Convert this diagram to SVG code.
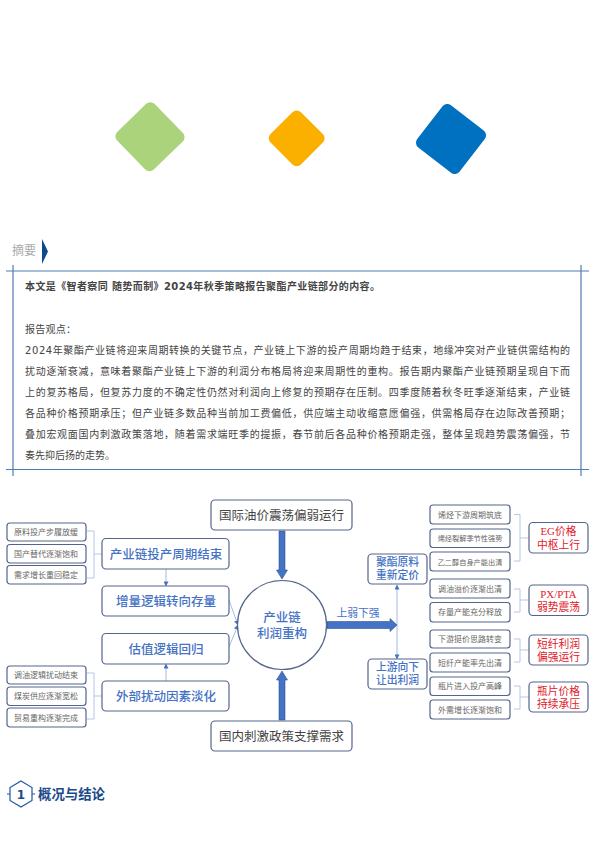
<svg xmlns="http://www.w3.org/2000/svg" width="595" height="842" viewBox="0 0 595 842">
<style>
.body{font-family:"DejaVu Sans","Noto Sans CJK SC",sans-serif;font-size:10px;fill:#444}
.d{font-family:"Liberation Serif","Noto Sans CJK SC",serif;text-anchor:middle}
.s{font-size:8px;fill:#666}
.m{font-size:12.500px;fill:#4472c4;font-weight:500}
.b{font-size:12.500px;fill:#444}
.n{font-size:10.800px;fill:#4472c4;font-weight:500}
.r{font-size:10.800px;fill:#e0202a}
.box{fill:#fff;stroke:#54648a;stroke-width:1.200}
.thin{fill:none;stroke:#b4c7e7;stroke-width:1}
.link{fill:none;stroke:#8faadc;stroke-width:.8}
.big{fill:#4472c4;stroke:#2f528f;stroke-width:.6}
.rule{stroke:#4f7cb4;stroke-width:1.200;fill:none}
</style>
<defs>
<marker id="a" viewBox="0 0 6 6" refX="5.500" refY="3" markerWidth="5" markerHeight="5" orient="auto-start-reverse" markerUnits="userSpaceOnUse"><path d="M0 0L6 3L0 6z" fill="#4472c4"/></marker>
</defs>
<g id="deco">
<rect x="123.800" y="110.500" width="52.400" height="52.400" rx="6" fill="#aad37b" transform="rotate(45.800 150 136.700)"/>
<rect x="275.200" y="116.800" width="43" height="43" rx="6" fill="#fbb000" transform="rotate(45 296.700 138.300)"/>
<rect x="424.300" y="112.300" width="53.400" height="53.400" rx="6" fill="#0070c0" transform="rotate(37.700 451 139)"/>
</g>
<g id="abstract">
<text x="12" y="255" font-family="Noto Sans CJK SC,sans-serif" font-size="12" fill="#aaa">摘要</text>
<path d="M42 239L48 251.500L42 264z" fill="#0b4a8f"/>
<path class="rule" d="M6 271H589M6 469.500H589M13 265V476M581 265V476"/>
<text class="body" x="25" y="290" font-weight="bold" textLength="355" lengthAdjust="spacing">本文是《智者察同 随势而制》2024年秋季策略报告聚酯产业链部分的内容。</text>
<text class="body" x="25" y="333" textLength="51" lengthAdjust="spacing">报告观点：</text>
<text class="body" x="25" y="354" textLength="545" lengthAdjust="spacing">2024年聚酯产业链将迎来周期转换的关键节点，产业链上下游的投产周期均趋于结束，地缘冲突对产业链供需结构的</text>
<text class="body" x="25" y="375" textLength="545" lengthAdjust="spacing">扰动逐渐衰减，意味着聚酯产业链上下游的利润分布格局将迎来周期性的重构。报告期内聚酯产业链预期呈现自下而</text>
<text class="body" x="25" y="396" textLength="545" lengthAdjust="spacing">上的复苏格局，但复苏力度的不确定性仍然对利润向上修复的预期存在压制。四季度随着秋冬旺季逐渐结束，产业链</text>
<text class="body" x="25" y="417" textLength="545" lengthAdjust="spacing">各品种价格预期承压；但产业链多数品种当前加工费偏低，供应端主动收缩意愿偏强，供需格局存在边际改善预期；</text>
<text class="body" x="25" y="438" textLength="545" lengthAdjust="spacing">叠加宏观面国内刺激政策落地，随着需求端旺季的提振，春节前后各品种价格预期走强，整体呈现趋势震荡偏强，节</text>
<text class="body" x="25" y="459" textLength="90" lengthAdjust="spacing">奏先抑后扬的走势。</text>
</g>
<g id="connectors">
<path class="thin" d="M87 531H94V578H87M94 554H102"/>
<path class="thin" d="M87 673H94V719H87M94 696H102"/>
<path class="thin" d="M514 514.500H520V561H514M520 538H529"/>
<path class="thin" d="M514 589H520V612H514M520 600H529"/>
<path class="thin" d="M514 639H520V662H514M520 650H529"/>
<path class="thin" d="M514 686H520V709H514M520 697H529"/>
<path class="link" d="M166 569V586" marker-end="url(#a)"/>
<path class="link" d="M166 681V664" marker-end="url(#a)"/>
<path class="link" d="M229 600L238 625" marker-end="url(#a)"/>
<path class="link" d="M229 647L238 625" marker-end="url(#a)"/>
<path class="link" d="M397 585V659" marker-start="url(#a)" marker-end="url(#a)"/>
<path class="big" d="M279 531H285V570H287.500L282 579L276.500 570H279z"/>
<path class="big" d="M279 720H285V680H287.500L282 671L276.500 680H279z"/>
<path class="big" d="M327 621.500H390V618.500L397 625L390 631.500V628.500H327z"/>
<text class="d" x="358" y="617" font-size="10.800" fill="#4472c4">上弱下强</text>
</g>
<g id="n-oil"><rect class="box" x="211" y="500" width="141" height="30" rx="4"/><text class="d b" x="281.500" y="519.500">国际油价震荡偏弱运行</text></g>
<g id="n-policy"><rect class="box" x="211" y="721" width="141" height="30" rx="4"/><text class="d b" x="281.500" y="740.500">国内刺激政策支撑需求</text></g>
<g id="n-core"><circle cx="282" cy="625" r="44.500" fill="#fff" stroke="#54648a" stroke-width="1.200"/><text class="d m" x="282" y="621.500">产业链</text><text class="d m" x="282" y="637.500">利润重构</text></g>
<g id="n-l1"><rect class="box" x="102" y="538.500" width="127" height="30.500" rx="4"/><text class="d m" x="166" y="558.500">产业链投产周期结束</text></g>
<g id="n-l2"><rect class="box" x="102" y="586" width="127" height="30" rx="4"/><text class="d m" x="166" y="605.500">增量逻辑转向存量</text></g>
<g id="n-l3"><rect class="box" x="102" y="633.500" width="127" height="30.500" rx="4"/><text class="d m" x="166" y="653.500">估值逻辑回归</text></g>
<g id="n-l4"><rect class="box" x="102" y="681" width="127" height="30" rx="4"/><text class="d m" x="166" y="700.500">外部扰动因素淡化</text></g>
<g id="n-a1"><rect class="box" x="7" y="523" width="79" height="18" rx="3"/><text class="d s" x="46" y="535">原料投产步履放缓</text></g>
<g id="n-a2"><rect class="box" x="7" y="544.500" width="79" height="18.500" rx="3"/><text class="d s" x="46" y="556.500">国产替代逐渐饱和</text></g>
<g id="n-a3"><rect class="box" x="7" y="565.500" width="79" height="18.500" rx="3"/><text class="d s" x="46" y="577.500">需求增长重回稳定</text></g>
<g id="n-b1"><rect class="box" x="7" y="666" width="79" height="18" rx="3"/><text class="d s" x="46" y="678">调油逻辑扰动结束</text></g>
<g id="n-b2"><rect class="box" x="7" y="687" width="79" height="18.500" rx="3"/><text class="d s" x="46" y="699">煤炭供应逐渐宽松</text></g>
<g id="n-b3"><rect class="box" x="7" y="708" width="79" height="19" rx="3"/><text class="d s" x="46" y="720.500">贸易重构逐渐完成</text></g>
<g id="n-up"><rect class="box" x="368" y="554" width="59" height="30" rx="4"/><text class="d n" x="397.500" y="565.500">聚酯原料</text><text class="d n" x="397.500" y="579">重新定价</text></g>
<g id="n-down"><rect class="box" x="368" y="659" width="59" height="30" rx="4"/><text class="d n" x="397.500" y="670.500">上游向下</text><text class="d n" x="397.500" y="684">让出利润</text></g>
<g id="n-c1"><rect class="box" x="430" y="505" width="80" height="19" rx="3"/><text class="d s" x="470" y="517.500">烯烃下游周期筑底</text></g>
<g id="n-c2"><rect class="box" x="430" y="529" width="80" height="18.500" rx="3"/><text class="d s" x="470" y="541" style="font-size:7.200px">烯烃裂解季节性强势</text></g>
<g id="n-c3"><rect class="box" x="430" y="552" width="80" height="19" rx="3"/><text class="d s" x="470" y="564.500" style="font-size:7.200px">乙二醇自身产能出清</text></g>
<g id="n-c4"><rect class="box" x="430" y="579" width="80" height="19" rx="3"/><text class="d s" x="470" y="591.500">调油溢价逐渐出清</text></g>
<g id="n-c5"><rect class="box" x="430" y="602.500" width="80" height="19.500" rx="3"/><text class="d s" x="470" y="615">存量产能充分释放</text></g>
<g id="n-c6"><rect class="box" x="430" y="630" width="80" height="18" rx="3"/><text class="d s" x="470" y="642">下游挺价思路转变</text></g>
<g id="n-c7"><rect class="box" x="430" y="653" width="80" height="19" rx="3"/><text class="d s" x="470" y="665.500">短纤产能率先出清</text></g>
<g id="n-c8"><rect class="box" x="430" y="677" width="80" height="18.500" rx="3"/><text class="d s" x="470" y="689">瓶片进入投产高峰</text></g>
<g id="n-c9"><rect class="box" x="430" y="700" width="80" height="19" rx="3"/><text class="d s" x="470" y="712.500">外需增长逐渐饱和</text></g>
<g id="n-r1"><rect class="box" x="529" y="522.500" width="59" height="30.500" rx="4"/><text class="d r" x="558.500" y="535">EG价格</text><text class="d r" x="558.500" y="548.500">中枢上行</text></g>
<g id="n-r2"><rect class="box" x="529" y="585" width="59" height="30.500" rx="4"/><text class="d r" x="558.500" y="597.500">PX/PTA</text><text class="d r" x="558.500" y="611">弱势震荡</text></g>
<g id="n-r3"><rect class="box" x="529" y="635" width="59" height="30" rx="4"/><text class="d r" x="558.500" y="647.500">短纤利润</text><text class="d r" x="558.500" y="661">偏强运行</text></g>
<g id="n-r4"><rect class="box" x="529" y="682" width="59" height="30" rx="4"/><text class="d r" x="558.500" y="695">瓶片价格</text><text class="d r" x="558.500" y="708">持续承压</text></g>
<g id="section">
<path d="M21 781L32 787.500V800.500L21 807L10 800.500V787.500z" fill="none" stroke="#1a5aa0" stroke-width="1.200"/>
<path d="M7 794H10M32 794H35" stroke="#1a5aa0" stroke-width="1.200"/>
<text x="21" y="799" text-anchor="middle" font-family="DejaVu Sans,sans-serif" font-size="12" font-weight="bold" fill="#1a4a8a">1</text>
<text x="38" y="799" font-family="Noto Sans CJK SC,sans-serif" font-size="13.400" font-weight="bold" fill="#1a4a8a">概况与结论</text>
</g>
</svg>
